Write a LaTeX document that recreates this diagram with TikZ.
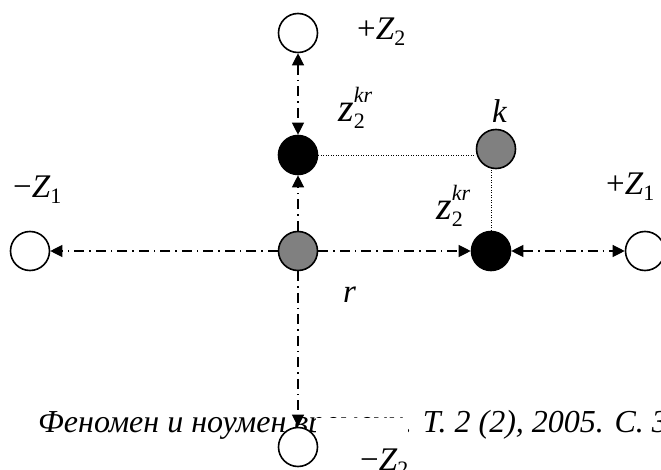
\documentclass[tikz,border=0pt]{standalone}
\usepackage{fontspec}
\setmainfont{Liberation Serif}
\usepackage{tikz}
\usetikzlibrary{arrows.meta}
\definecolor{pointgray}{HTML}{808080}
\tikzset{
  >={Triangle[length=12pt,width=12pt]},
  ax/.style={draw=black,line width=1.2pt,dash pattern=on 10pt off 5pt on 1.5pt off 5pt},
  dt/.style={draw=black,line width=0.8pt,dash pattern=on 1pt off 1.5pt},
}
\newcommand{\lblsize}{\fontsize{33}{38}\selectfont}
\newcommand{\subsize}{\fontsize{22}{26}\selectfont}
\newcommand{\zaxis}[2]{#1\textit{Z}\raisebox{-6pt}{\subsize#2}}
\newcommand{\zkr}{{\fontsize{40}{46}\selectfont\textit{z}}\rlap{\raisebox{-7pt}{\subsize 2}}\raisebox{19pt}{\subsize\textit{kr}}}

\begin{document}
\begin{tikzpicture}[x=1pt,y=-1pt,
  pt/.style={circle,draw=black,line width=1.6pt,minimum size=39pt,inner sep=0pt},
  opn/.style={pt,fill=white},
  blk/.style={pt,fill=black},
  gry/.style={pt,fill=pointgray},
  lab/.style={anchor=base west,inner sep=0pt,font=\lblsize},
]
  \useasboundingbox (0,0) rectangle (661,470);

  % running line of the page, partly hidden
  \node[anchor=base west,inner sep=0pt,font=\fontsize{32}{36}\selectfont\itshape] (cap)
    at (38,432) {Феномен и ноумен времени. Т. 2 (2), 2005. С. 3};
  \node[lab,fill=white,text height=52pt,text depth=4pt] (lZm2) at (316,470)
    {\hspace*{44pt}\zaxis{−}{2}};

  % points
  \node[opn] (Zp2) at (298,33) {};
  \node[blk] (B2) at (298,155) {};
  \node[gry] (R) at (298,251) {};
  \node[opn] (Zm1) at (30,251) {};
  \node[blk] (Bk) at (491,251) {};
  \node[opn] (Zp1) at (645,251) {};
  \node[gry] (K) at (496,149) {};
  \node[opn] (Zm2) at (298,447) {};

  % labels
  \node[lab] (lZp2) at (357,40) {\zaxis{+}{2}};
  \node[lab] (lB2) at (338,122) {\zkr};
  \node[lab] (lK) at (492,123) {\textit{k}};
  \node[lab] (lZp1) at (606,195) {\zaxis{+}{1}};
  \node[lab] (lBk) at (436,220) {\zkr};
  \node[lab] (lZm1) at (13,198) {\zaxis{−}{1}};
  \node[lab] (lR) at (343,302) {\textit{r}};

  % axes
  \draw[ax,<->] (Zp2) -- (B2);
  \draw[ax,->] (R) -- (B2);
  \draw[ax,->] (R) -- (Zm2);
  \draw[ax,->] (R) -- (Zm1);
  \draw[ax,->] (R) -- (Bk);
  \draw[ax,<->] (Bk) -- (Zp1);

  % projections of k
  \draw[dt] (B2) -- (B2 -| K.west);
  \draw[dt] (Bk) -- (Bk |- K.south);
\end{tikzpicture}
\end{document}
